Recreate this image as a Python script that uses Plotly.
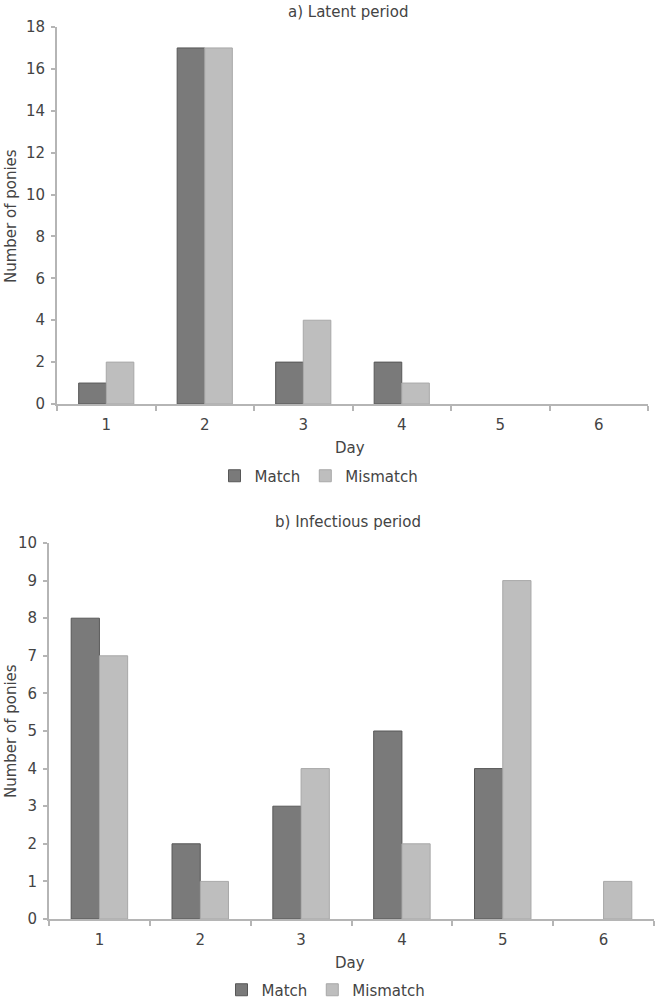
import plotly.graph_objects as go
from plotly.subplots import make_subplots

days = ["1", "2", "3", "4", "5", "6"]
latent_match = [1, 17, 2, 2, 0, 0]
latent_mismatch = [2, 17, 4, 1, 0, 0]
infect_match = [8, 2, 3, 5, 4, 0]
infect_mismatch = [7, 1, 4, 2, 9, 1]

W, H = 658, 1002
FONT = "DejaVu Sans"
FS = 15
TXT = "#444444"
AX = "#b5b5b5"
DARK = "#7a7a7a"
DARK_LINE = "#575757"
LIGHT = "#bebebe"
LIGHT_LINE = "#a8a8a8"

def widths(vals):
    return [1 if v > 0 else 0 for v in vals]

fig = make_subplots(rows=2, cols=1)

fig.add_trace(go.Bar(x=days, y=latent_match, name="Match", marker=dict(color=DARK, line=dict(color=DARK_LINE, width=widths(latent_match))), legend="legend"), row=1, col=1)
fig.add_trace(go.Bar(x=days, y=latent_mismatch, name="Mismatch", marker=dict(color=LIGHT, line=dict(color=LIGHT_LINE, width=widths(latent_mismatch))), legend="legend"), row=1, col=1)
fig.add_trace(go.Bar(x=days, y=infect_match, name="Match", marker=dict(color=DARK, line=dict(color=DARK_LINE, width=widths(infect_match))), legend="legend2"), row=2, col=1)
fig.add_trace(go.Bar(x=days, y=infect_mismatch, name="Mismatch", marker=dict(color=LIGHT, line=dict(color=LIGHT_LINE, width=widths(infect_mismatch))), legend="legend2"), row=2, col=1)

def px_x(p):
    return p / W

def px_y(p):
    return 1 - p / H

common_x = dict(showline=True, linecolor=AX, linewidth=2, ticks="outside", ticklen=5, tickwidth=2,
                tickcolor=AX, tickson="boundaries", showgrid=False, zeroline=False, automargin=False,
                ticklabelstandoff=6,
                tickfont=dict(size=FS, color=TXT, family=FONT), range=[-0.5, 5.5])
common_y = dict(showline=True, linecolor=AX, linewidth=2, ticks="outside", ticklen=4, tickwidth=2,
                tickcolor=AX, showgrid=False, zeroline=False, automargin=False,
                ticklabelstandoff=3,
                tickfont=dict(size=FS, color=TXT, family=FONT))

fig.update_xaxes(domain=[px_x(57), px_x(648)], **common_x, row=1, col=1)
fig.update_xaxes(domain=[px_x(49), px_x(654)], **common_x, row=2, col=1)
fig.update_yaxes(domain=[px_y(404), px_y(27)], range=[0, 18], dtick=2, **common_y, row=1, col=1)
fig.update_yaxes(domain=[px_y(919), px_y(543)], range=[0, 10], dtick=1, **common_y, row=2, col=1)

ann_font = dict(size=FS, color=TXT, family=FONT)
annotations = [
    dict(text="a) Latent period", x=px_x(348), y=px_y(12), xref="paper", yref="paper", showarrow=False, font=ann_font, xanchor="center", yanchor="middle"),
    dict(text="b) Infectious period", x=px_x(348), y=px_y(522), xref="paper", yref="paper", showarrow=False, font=ann_font, xanchor="center", yanchor="middle"),
    dict(text="Day", x=px_x(350), y=px_y(448), xref="paper", yref="paper", showarrow=False, font=ann_font, xanchor="center", yanchor="middle"),
    dict(text="Day", x=px_x(350), y=px_y(963), xref="paper", yref="paper", showarrow=False, font=ann_font, xanchor="center", yanchor="middle"),
    dict(text="Number of ponies", x=px_x(11), y=px_y(216), xref="paper", yref="paper", showarrow=False, font=ann_font, textangle=-90, xanchor="center", yanchor="middle"),
    dict(text="Number of ponies", x=px_x(11), y=px_y(731), xref="paper", yref="paper", showarrow=False, font=ann_font, textangle=-90, xanchor="center", yanchor="middle"),
]

leg_common = dict(orientation="h", xanchor="center", yanchor="middle", font=dict(size=FS, color=TXT, family=FONT),
                  itemwidth=30, bgcolor="rgba(0,0,0,0)", tracegroupgap=0)

fig.update_layout(
    width=W, height=H,
    margin=dict(l=0, r=0, t=0, b=0, autoexpand=False),
    paper_bgcolor="white", plot_bgcolor="white",
    barmode="group", bargap=0.44, bargroupgap=0,
    annotations=annotations,
    legend=dict(x=px_x(319), y=px_y(476), **leg_common),
    legend2=dict(x=px_x(326), y=px_y(990), **leg_common),
    font=dict(family=FONT, color=TXT),
)

fig.write_html("out.html", config={"displayModeBar": False},
               post_script="document.body.style.margin='0';document.body.style.overflow='hidden';")
